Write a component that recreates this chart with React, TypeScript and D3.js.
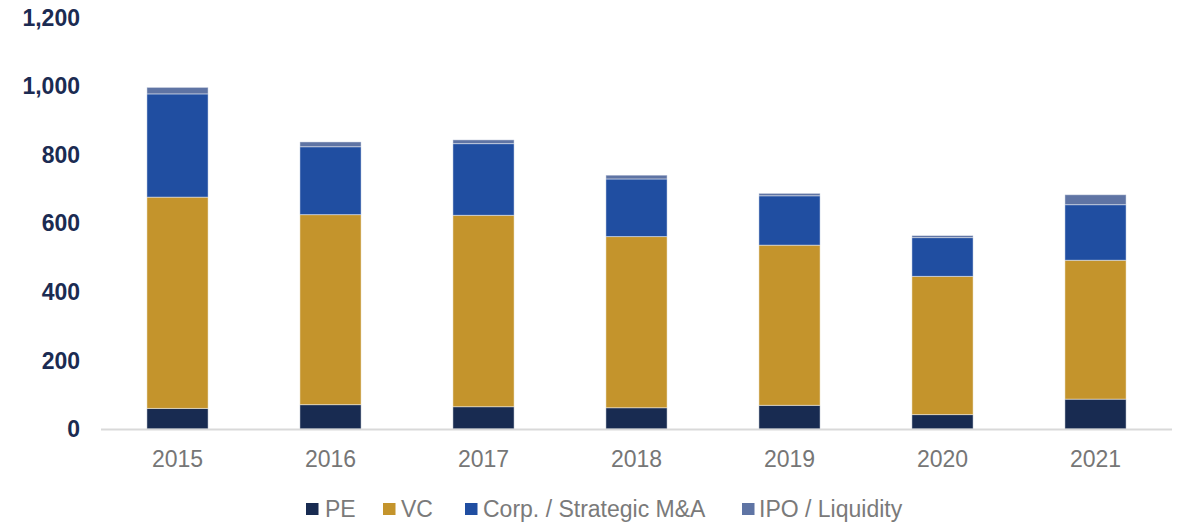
import React from "react";
import * as d3 from "d3";

const years = ["2015", "2016", "2017", "2018", "2019", "2020", "2021"];
const peValues = [60, 71, 65, 62, 69, 42, 87];
const vcValues = [616, 554, 558, 499, 467, 403, 405];
const corpValues = [301, 198, 209, 168, 144, 113, 162];
const ipoValues = [19, 14, 11, 11, 7, 6, 29];
const seriesNames = ["PE", "VC", "Corp. / Strategic M&A", "IPO / Liquidity"];
const seriesColors = ["#182b51", "#c4942c", "#204ea1", "#5f74a4"];
const yTicks = [0, 200, 400, 600, 800, 1000, 1200];

const W = 1181;
const H = 523;

export default function App() {
  const keys = ["pe", "vc", "corp", "ipo"];
  const rows = years.map((y, i) => ({
    year: y,
    pe: peValues[i],
    vc: vcValues[i],
    corp: corpValues[i],
    ipo: ipoValues[i],
  }));
  const stacked = d3.stack<any>().keys(keys)(rows);

  const x = d3.scaleBand<string>().domain(years).range([101, 1172]).paddingInner(0.6).paddingOuter(0.3);
  const y = d3.scaleLinear().domain([0, 1200]).range([429, 17.4]);
  const fmt = d3.format(",");

  const legendItems = [
    { sx: 306, tx: 325 },
    { sx: 383, tx: 401 },
    { sx: 465, tx: 483 },
    { sx: 742, tx: 759 },
  ];

  return (
    <svg
      width={W}
      height={H}
      style={{ position: "absolute", left: 0, top: 0, background: "#fff" }}
      fontFamily="'Liberation Sans', Arial, sans-serif"
    >
      <rect x={0} y={0} width={W} height={H} fill="#fff" />
      {yTicks.map((t) => (
        <text
          key={t}
          x={80}
          y={y(t)}
          dy="0.36em"
          textAnchor="end"
          fontSize={23}
          fontWeight="bold"
          fill="#1b2b52"
        >
          {fmt(t)}
        </text>
      ))}
      {stacked.map((s, si) => (
        <g key={s.key} fill={seriesColors[si]}>
          {s.map((d, i) => (
            <rect
              key={i}
              x={x(years[i])}
              y={y(d[1])}
              width={x.bandwidth()}
              height={Math.max(0, y(d[0]) - y(d[1]))}
              stroke="#ffffff"
              strokeOpacity={0.45}
              strokeWidth={1}
            />
          ))}
        </g>
      ))}
      <line x1={101} x2={1172} y1={429.5} y2={429.5} stroke="#d9d9d9" strokeWidth={2} />
      {years.map((yr) => (
        <text
          key={yr}
          x={(x(yr) as number) + x.bandwidth() / 2}
          y={467.3}
          textAnchor="middle"
          fontSize={23}
          fill="#767676"
        >
          {yr}
        </text>
      ))}
      {seriesNames.map((n, i) => (
        <g key={n}>
          <rect x={legendItems[i].sx} y={503} width={12.5} height={12} fill={seriesColors[i]} />
          <text x={legendItems[i].tx} y={517.3} fontSize={23} fill="#7a7a7a">
            {n}
          </text>
        </g>
      ))}
    </svg>
  );
}
